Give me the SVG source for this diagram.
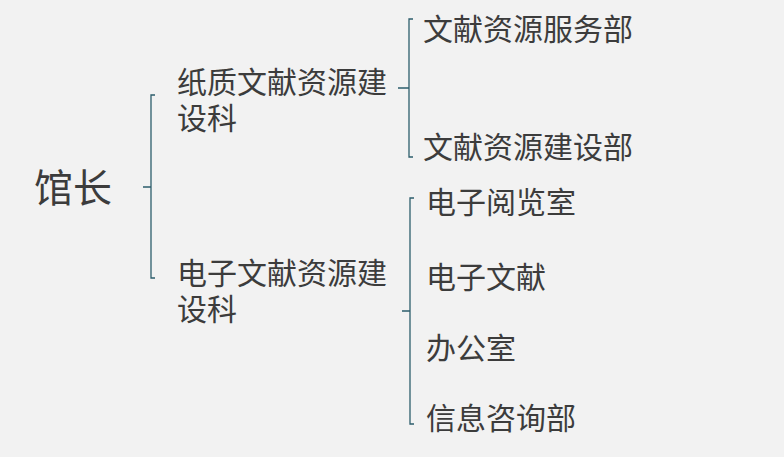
<svg xmlns="http://www.w3.org/2000/svg" width="784" height="457" viewBox="0 0 784 457">
<style>
text{font-family:"Microsoft YaHei","Noto Sans CJK SC","Noto Sans CJK TC",sans-serif;fill:#3c3c3c;font-size:30px}
.big{font-size:39px}
.br{fill:none;stroke:#2d5e6c;stroke-width:1.3}
</style>
<rect width="784" height="457" fill="#f2f2f2"/>
<g id="connectors">
<path class="br" d="M155,95 H151 V278 H155 M143,187 H151"/>
<path class="br" d="M413,19 H409 V157 H413 M398,88 H409"/>
<path class="br" d="M414,198 H410 V424 H414 M402,311 H410"/>
</g>
<g id="n0"><text class="big" x="34" y="202">馆长</text></g>
<g id="n1"><text x="177" y="93">纸质文献资源建<tspan x="177" dy="36">设科</tspan></text></g>
<g id="n2"><text x="177" y="284">电子文献资源建<tspan x="177" dy="36">设科</tspan></text></g>
<g id="n3"><text x="423" y="40">文献资源服务部</text></g>
<g id="n4"><text x="423" y="158">文献资源建设部</text></g>
<g id="n5"><text x="426" y="213">电子阅览室</text></g>
<g id="n6"><text x="426" y="288">电子文献</text></g>
<g id="n7"><text x="426" y="359">办公室</text></g>
<g id="n8"><text x="426" y="429">信息咨询部</text></g>
</svg>
